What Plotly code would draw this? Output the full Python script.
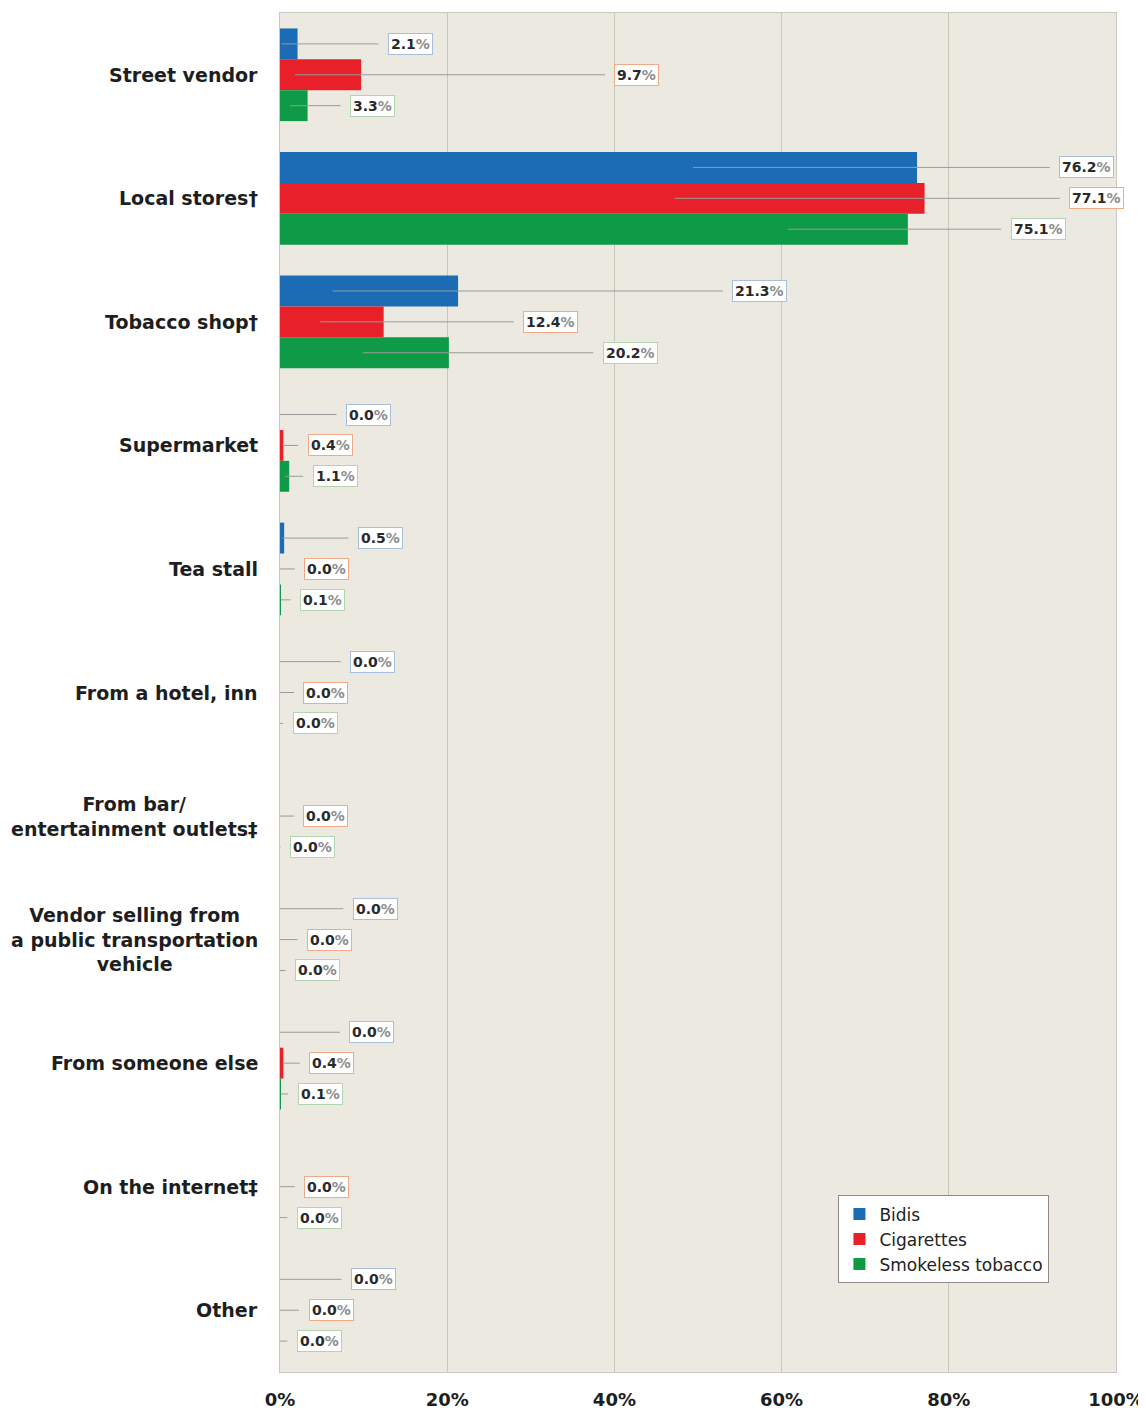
import plotly.graph_objects as go

# ---------------- data ----------------
categories = [
    "Street vendor",
    "Local stores\u2020",
    "Tobacco shop\u2020",
    "Supermarket",
    "Tea stall",
    "From a hotel, inn",
    "From bar/<br>entertainment outlets\u2021",
    "Vendor selling from<br>a public transportation<br>vehicle",
    "From someone else",
    "On the internet\u2021",
    "Other",
]
series_names = ["Bidis", "Cigarettes", "Smokeless tobacco"]
bidis = [2.1, 76.2, 21.3, 0.0, 0.5, 0.0, None, 0.0, 0.0, None, 0.0]
cigarettes = [9.7, 77.1, 12.4, 0.4, 0.0, 0.0, 0.0, 0.0, 0.4, 0.0, 0.0]
smokeless = [3.3, 75.1, 20.2, 1.1, 0.1, 0.0, 0.0, 0.0, 0.1, 0.0, 0.0]
x_ticks = [0, 20, 40, 60, 80, 100]

# ---------------- label layout (callout placement, in axis units) ----------------
label_x = [
    [15.6, 96.5, 57.4, 10.6, 12.0, 11.1, None, 11.4, 11.0, None, 11.2],
    [42.7, 97.7, 32.4, 6.0, 5.6, 5.5, 5.5, 5.9, 6.2, 5.6, 6.1],
    [11.1, 90.7, 41.9, 6.6, 5.1, 4.2, 3.9, 4.5, 4.8, 4.7, 4.7],
]
leader_from = [
    [0.2, 49.4, 6.3, 0.0, 0.3, 0.0, None, 0.0, 0.0, None, 0.0],
    [1.8, 47.2, 4.8, 0.3, 0.0, 0.0, 0.0, 0.0, 0.3, 0.0, 0.0],
    [1.2, 60.8, 9.9, 0.6, 0.1, 0.0, 0.0, 0.0, 0.1, 0.0, 0.0],
]

# ---------------- styles ----------------
colors = ["#1B6BB5", "#E8202A", "#0E9A47"]
label_borders = ["#A9BEDD", "#F2A988", "#B2D4AE"]
FONT = "DejaVu Sans"
bar_gap = 0.25
n_series = 3

values = [bidis, cigarettes, smokeless]
ypos = list(range(len(categories)))

fig = go.Figure()
for k in range(n_series):
    fig.add_trace(go.Bar(
        name=series_names[k],
        x=values[k],
        y=ypos,
        orientation="h",
        marker=dict(color=colors[k], line=dict(width=0)),
        hoverinfo="x+name",
    ))

bar_w = (1 - bar_gap) / n_series
annotations = []
for k in range(n_series):
    for i, v in enumerate(values[k]):
        if v is None:
            continue
        y = i + (k - (n_series - 1) / 2) * bar_w
        annotations.append(dict(
            x=leader_from[k][i], y=y, xref="x", yref="y",
            ax=label_x[k][i], ay=y, axref="x", ayref="y",
            text=f"{v:.1f}<span style='color:#8c8c8c'>%</span>",
            showarrow=True, arrowhead=0, arrowwidth=1, arrowcolor="#9a9a9a",
            standoff=0, startstandoff=10,
            font=dict(family=FONT, size=14, color="#2a2a2a", weight="bold"),
            bgcolor="white", bordercolor=label_borders[k], borderwidth=1, borderpad=2,
        ))

for i, c in enumerate(categories):
    annotations.append(dict(
        x=0, y=i, xref="paper", yref="y", xanchor="right", yanchor="middle",
        xshift=-20, text=c, showarrow=False, align="center",
        font=dict(family=FONT, size=19, color="#1e1e1e", weight="bold"),
    ))

# page body has an 8px margin, so the figure is sized to fit the window
fig.update_layout(
    width=1138, height=1402,
    margin=dict(l=272, r=30, t=5, b=38),
    paper_bgcolor="white",
    plot_bgcolor="#ECEAE0",
    barmode="group",
    bargap=bar_gap,
    bargroupgap=0,
    showlegend=True,
    legend=dict(
        x=0.668, y=0.130, xanchor="left", yanchor="top",
        bgcolor="white", bordercolor="#8a8a8a", borderwidth=1,
        font=dict(family=FONT, size=17, color="#222"),
        traceorder="normal", itemwidth=30,
    ),
    annotations=annotations,
    font=dict(family=FONT),
)
fig.update_xaxes(
    range=[0, 100], tickvals=x_ticks, ticktext=[f"{t}%" for t in x_ticks],
    showgrid=True, gridcolor="#C9C6BA", gridwidth=1,
    showline=True, linecolor="#C9C7BF", mirror=True,
    zeroline=False, ticks="",
    tickfont=dict(family=FONT, size=18, color="#1e1e1e", weight="bold"),
    ticklabelstandoff=11, automargin=False,
)
fig.update_yaxes(
    range=[len(categories) - 0.5, -0.5],
    showticklabels=False, showgrid=False, zeroline=False,
    showline=True, linecolor="#C9C7BF", mirror=True, ticks="",
    automargin=False,
)

fig.write_html("out.html")
